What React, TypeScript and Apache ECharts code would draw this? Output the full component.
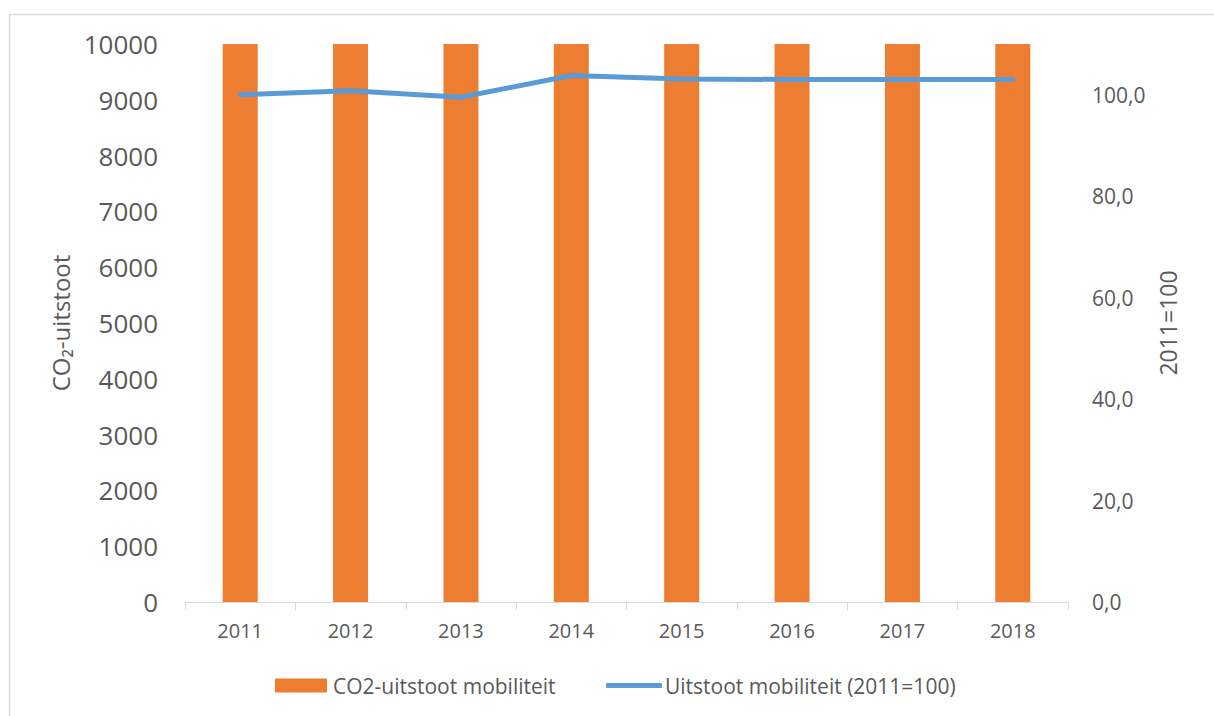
import React, { useEffect, useRef } from "react";
import * as echarts from "echarts";

const years = ["2011", "2012", "2013", "2014", "2015", "2016", "2017", "2018"];
const co2Values = [10000, 10000, 10000, 10000, 10000, 10000, 10000, 10000];
const indexValues = [100.0, 100.8, 99.5, 103.8, 103.1, 103.0, 103.0, 103.0];
const barName = "CO2-uitstoot mobiliteit";
const lineName = "Uitstoot mobiliteit (2011=100)";

const FONT = "Open Sans";
const TEXT = "#595959";

export default function App() {
  const ref = useRef<HTMLDivElement>(null);
  useEffect(() => {
    if (!ref.current) return;
    const chart = echarts.init(ref.current, null, { renderer: "svg" });
    chart.setOption({
      animation: false,
      backgroundColor: "#ffffff",
      textStyle: { fontFamily: FONT },
      graphic: [
        {
          type: "rect",
          shape: { x: 9.5, y: 14.5, width: 1300, height: 800 },
          style: { fill: "none", stroke: "#d9d9d9", lineWidth: 1.5 },
          silent: true,
        },
      ],
      grid: { left: 185, right: 146, top: 44, bottom: 114, containLabel: false },
      legend: [
        {
          data: [{ name: barName, icon: "rect" }],
          left: 270,
          top: 670,
          itemWidth: 52,
          itemHeight: 14,
          textStyle: { color: TEXT, fontSize: 21, fontFamily: FONT, padding: [0, 0, 0, 1] },
        },
        {
          data: [{ name: lineName, icon: "roundRect" }],
          left: 601,
          top: 670,
          itemWidth: 56,
          itemHeight: 5,
          textStyle: { color: TEXT, fontSize: 21, fontFamily: FONT, padding: [0, 0, 0, -2] },
        },
      ],
      xAxis: {
        type: "category",
        data: years,
        axisLine: { show: true, lineStyle: { color: "#d9d9d9", width: 1 } },
        axisTick: { show: true, alignWithLabel: false, length: 8, lineStyle: { color: "#d9d9d9" } },
        axisLabel: { color: TEXT, fontSize: 20, fontFamily: FONT, margin: 18 },
        splitLine: { show: false },
      },
      yAxis: [
        {
          type: "value",
          min: 0,
          max: 10000,
          interval: 1000,
          name: "CO₂-uitstoot",
          nameLocation: "middle",
          nameRotate: 90,
          nameGap: 112,
          nameTextStyle: { color: TEXT, fontSize: 24, fontFamily: FONT },
          axisLine: { show: false },
          axisTick: { show: false },
          splitLine: { show: false },
          axisLabel: {
            color: TEXT,
            fontSize: 26,
            fontFamily: FONT,
            margin: 27,
            formatter: (v: number) => String(v),
          },
        },
        {
          type: "value",
          min: 0,
          max: 110,
          interval: 20,
          name: "2011=100",
          nameLocation: "middle",
          nameRotate: 90,
          nameGap: 83,
          nameTextStyle: { color: TEXT, fontSize: 23, fontFamily: FONT },
          axisLine: { show: false },
          axisTick: { show: false },
          splitLine: { show: false },
          axisLabel: {
            color: TEXT,
            fontSize: 21,
            fontFamily: FONT,
            margin: 24,
            formatter: (v: number) => (v > 100 ? "" : v.toFixed(1).replace(".", ",")),
          },
        },
      ],
      series: [
        {
          name: barName,
          type: "bar",
          data: co2Values,
          yAxisIndex: 0,
          barWidth: 35,
          itemStyle: { color: "#ED7D31" },
        },
        {
          name: lineName,
          type: "line",
          data: indexValues,
          yAxisIndex: 1,
          symbol: "none",
          lineStyle: { color: "#5B9BD5", width: 5, cap: "round", join: "round" },
          itemStyle: { color: "#5B9BD5" },
        },
      ],
    });
    return () => chart.dispose();
  }, []);
  return (
    <div
      ref={ref}
      style={{ position: "absolute", left: 0, top: 0, width: 1214, height: 716 }}
    />
  );
}
